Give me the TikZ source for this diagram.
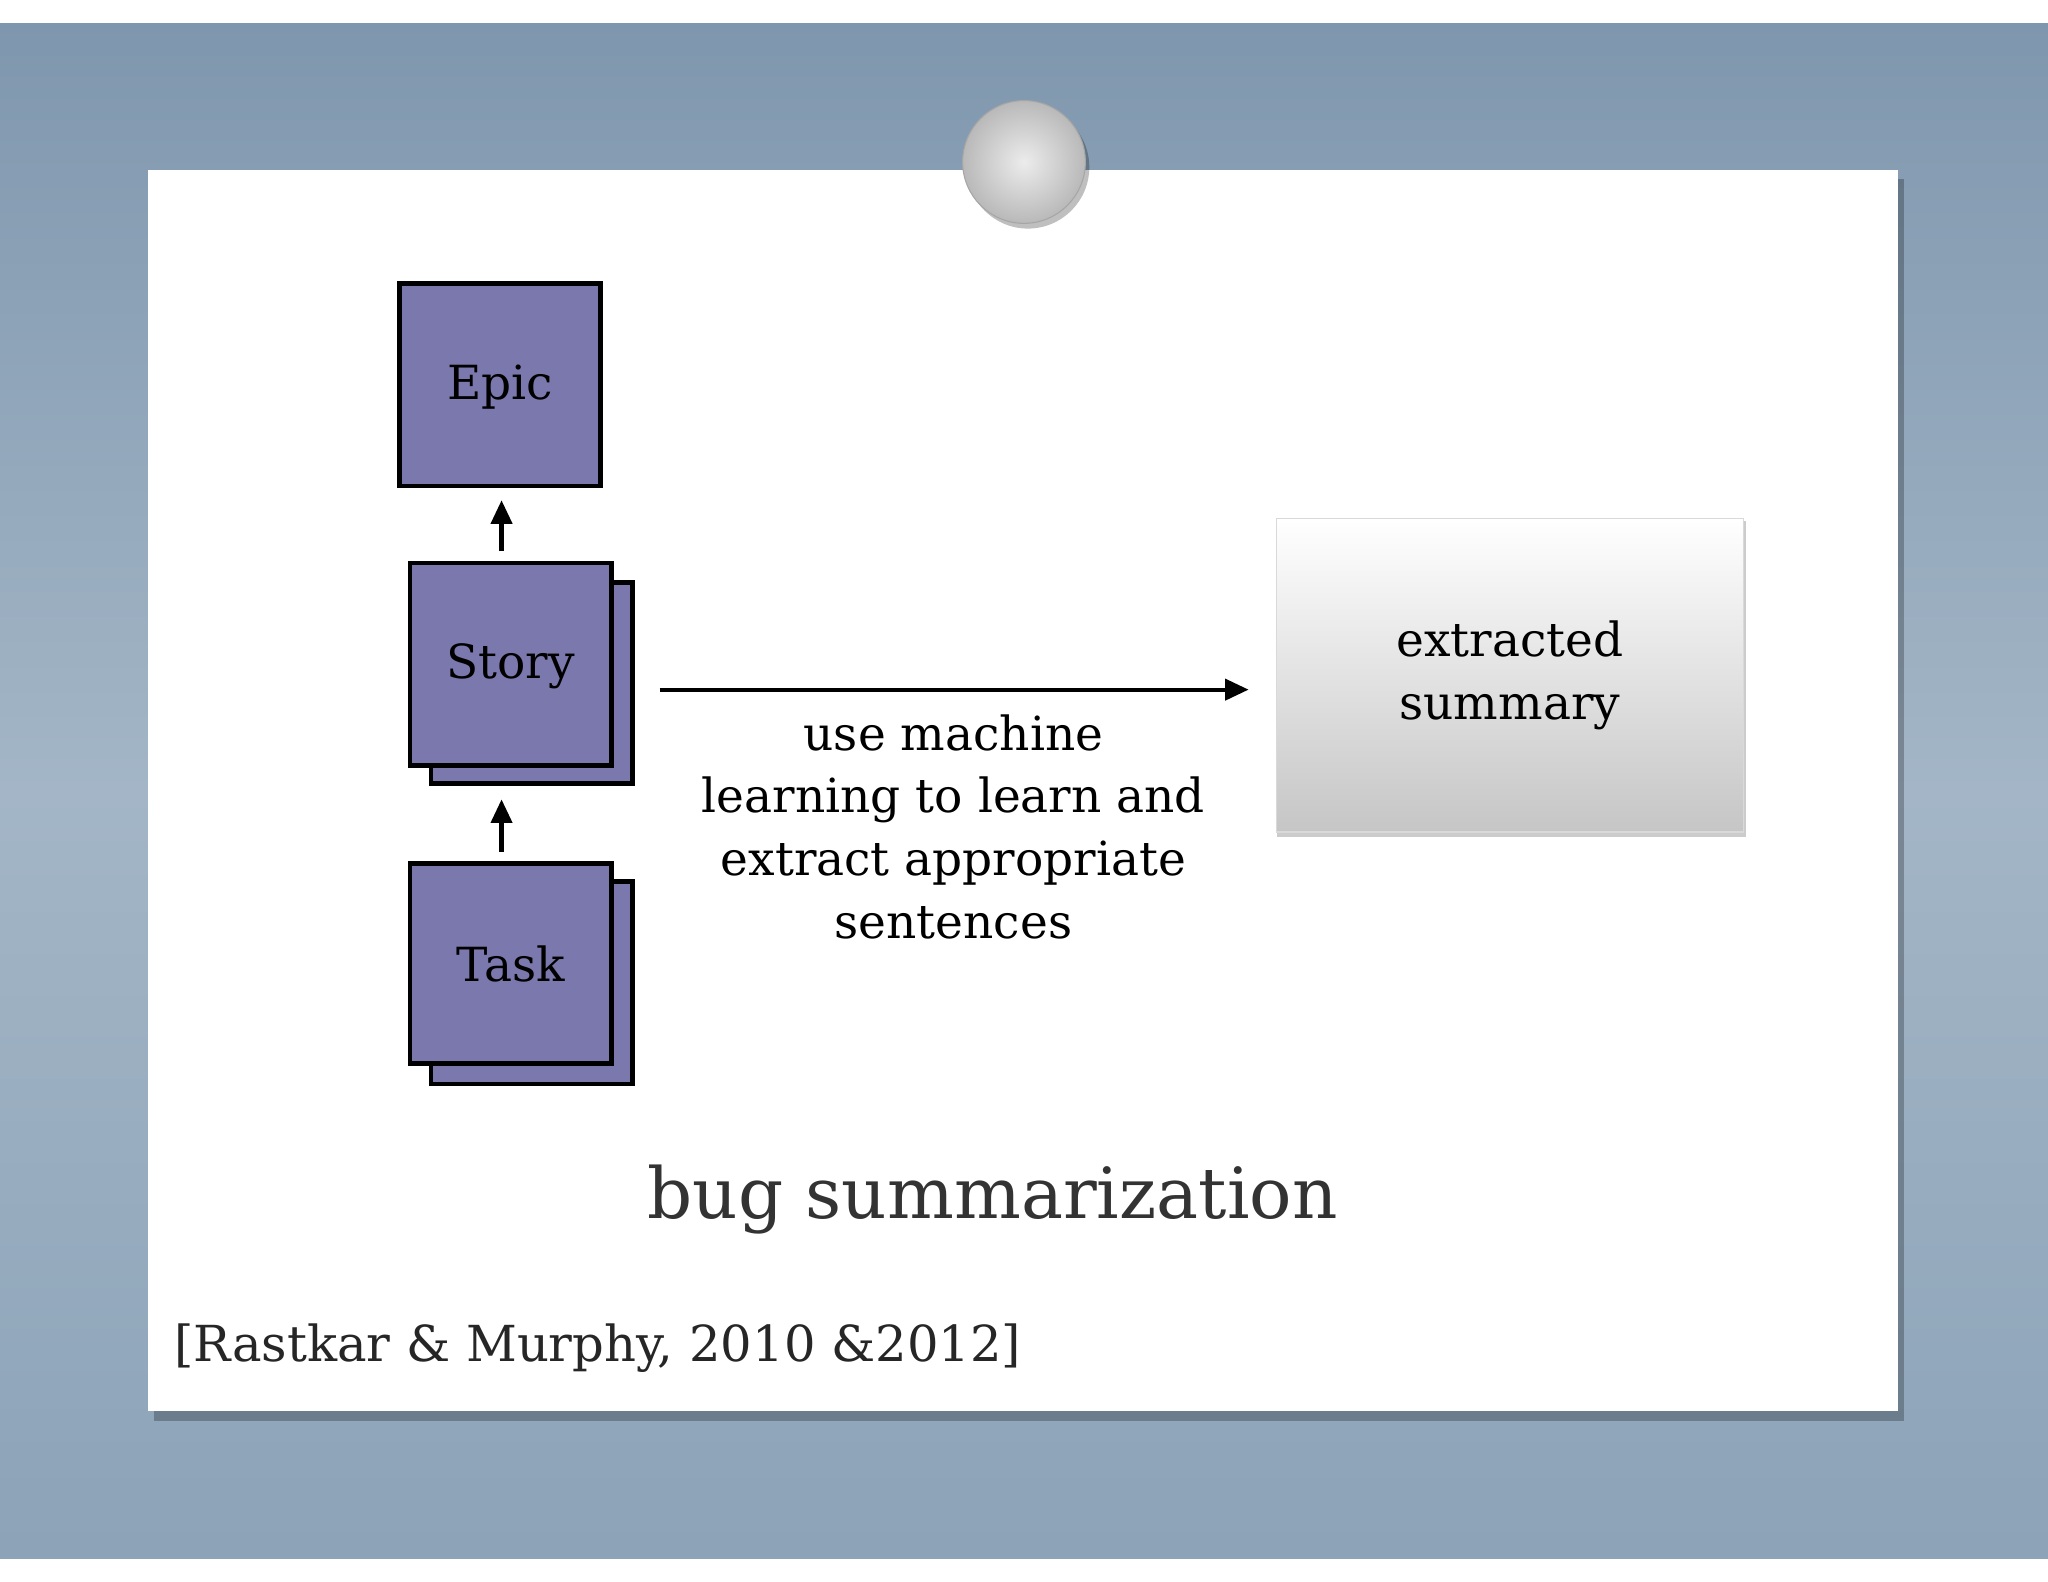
\documentclass[tikz,border=0pt]{standalone}
\usepackage{fontspec}
\setmainfont{DejaVu Serif}
\usetikzlibrary{shadows,arrows.meta}
\definecolor{bgblue}{HTML}{8CA3B8}
\definecolor{bgtop}{HTML}{7F97AE}
\definecolor{boxpurple}{HTML}{7B78AD}
\begin{document}
\begin{tikzpicture}[x=0.5pt,y=-0.5pt,
  pbox/.style={draw=black,line width=1.8pt,fill=boxpurple},
  lbl/.style={font=\fontsize{18}{24}\selectfont,align=center},
  arr/.style={-{Triangle[length=9pt,width=8pt]},line width=1.6pt}]
\useasboundingbox (0,0) rectangle (1568,1211);
\fill[white] (0,0) rectangle (1568,1211);
\shade[top color=bgtop,bottom color=bgblue,middle color=bgblue!80!white] (0,18) rectangle (1568,1193);
% card
\fill[black,opacity=0.25] (118,137) rectangle (1458,1088);
\fill[white] (113,130) rectangle (1453,1080);
% pin
\fill[black,opacity=0.25] (787,128) circle (47);
\shade[inner color=gray!15,outer color=gray!55,draw=gray!70] (784,124) circle (47);
% boxes
\draw[pbox] (306,217) rectangle (460,372);
\node[lbl] (epic) at (383,296) {Epic};
\draw[pbox] (330,446) rectangle (484,600);
\draw[pbox] (314,431) rectangle (468,586);
\node[lbl] (story) at (391,510) {Story};
\draw[pbox] (330,675) rectangle (484,830);
\draw[pbox] (314,661) rectangle (468,814);
\node[lbl] (task) at (391,738) {Task};
\coordinate (a1) at (384,422); \coordinate (a2) at (384,383);
\coordinate (b1) at (384,652); \coordinate (b2) at (384,612);
\draw[arr] (a1) -- (a2);
\draw[arr] (b1) -- (b2);
\coordinate (m1) at (505,528); \coordinate (m2) at (956,528);
\draw[arr] (m1) -- (m2);
\node[lbl] (ml) at (730,633) {use machine\\learning to learn and\\extract appropriate\\sentences};
% summary
\fill[black,opacity=0.2] (978,399) rectangle (1337,641);
\shade[top color=white,bottom color=gray!45,draw=gray!30] (977,397) rectangle (1335,637);
\node[lbl] (sum) at (1156,517) {extracted\\summary};
\node[font=\fontsize{27}{30}\selectfont,text=black!80] (title) at (760,918) {bug summarization};
\node[font=\fontsize{19}{22}\selectfont,text=black!85,anchor=west,inner sep=0] (cite) at (133,1032) {[Rastkar \& Murphy, 2010 \&2012]};
\end{tikzpicture}
\end{document}
